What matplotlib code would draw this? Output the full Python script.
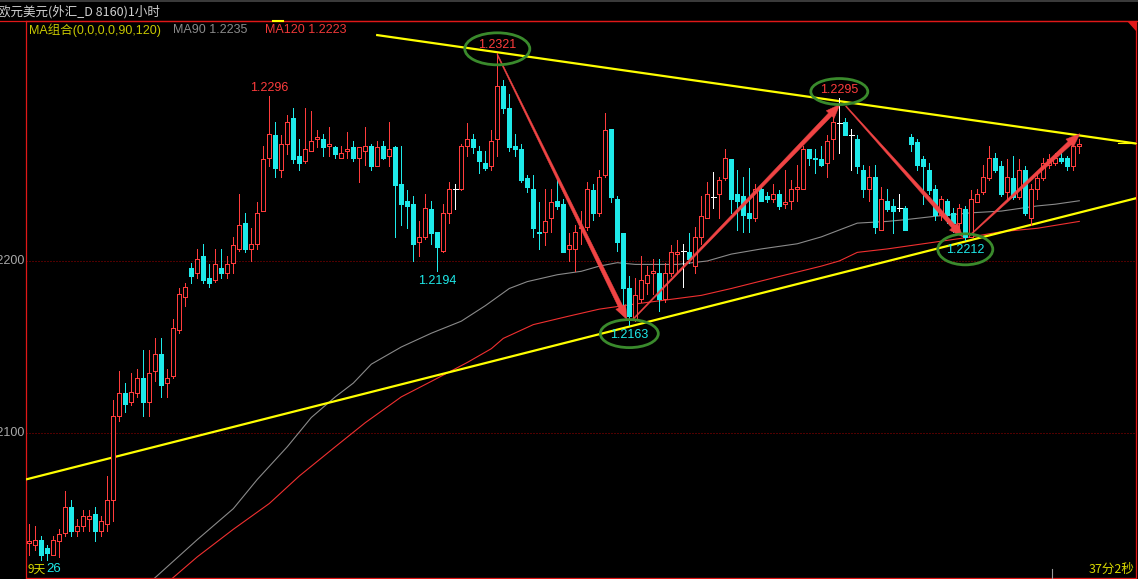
import numpy as np
import matplotlib
matplotlib.use("Agg")
import matplotlib.pyplot as plt
from matplotlib.patches import Rectangle, Ellipse, Polygon
from matplotlib.lines import Line2D
from matplotlib.collections import LineCollection

# ---- EUR/USD hourly bars (open, high, low, close) ----
opens = [
    1.2036, 1.2035, 1.2038, 1.2033, 1.2029, 1.2037, 1.2042, 1.2057, 1.2043, 1.2046,
    1.2050, 1.2053, 1.2043, 1.2047, 1.2061, 1.2110, 1.2123, 1.2118, 1.2123, 1.2132,
    1.2118, 1.2136, 1.2146, 1.2129, 1.2133, 1.2160, 1.2179, 1.2196, 1.2193, 1.2203,
    1.2190, 1.2189, 1.2196, 1.2193, 1.2199, 1.2207, 1.2222, 1.2207, 1.2210, 1.2229,
    1.2260, 1.2273, 1.2253, 1.2268, 1.2283, 1.2261, 1.2258, 1.2264, 1.2271, 1.2271,
    1.2267, 1.2266, 1.2260, 1.2264, 1.2266, 1.2260, 1.2264, 1.2267, 1.2255, 1.2267,
    1.2261, 1.2266, 1.2245, 1.2235, 1.2233, 1.2211, 1.2214, 1.2230, 1.2217, 1.2206,
    1.2228, 1.2242, 1.2242, 1.2267, 1.2271, 1.2264, 1.2257, 1.2255, 1.2271, 1.2302,
    1.2289, 1.2267, 1.2265, 1.2248, 1.2242, 1.2217, 1.2217, 1.2225, 1.2235, 1.2233,
    1.2207, 1.2207, 1.2219, 1.2220, 1.2241, 1.2228, 1.2250, 1.2277, 1.2236, 1.2216,
    1.2184, 1.2166, 1.2178, 1.2187, 1.2193, 1.2193, 1.2178, 1.2193, 1.2204, 1.2206,
    1.2205, 1.2197, 1.2214, 1.2225, 1.2237, 1.2239, 1.2248, 1.2259, 1.2239, 1.2238,
    1.2228, 1.2225, 1.2242, 1.2238, 1.2236, 1.2239, 1.2233, 1.2235, 1.2242, 1.2242,
    1.2265, 1.2260, 1.2259, 1.2257, 1.2271, 1.2280, 1.2281, 1.2273, 1.2271, 1.2253,
    1.2242, 1.2249, 1.2218, 1.2235, 1.2232, 1.2231, 1.2231, 1.2272, 1.2269, 1.2259,
    1.2253, 1.2242, 1.2227, 1.2235, 1.2228, 1.2222, 1.2230, 1.2214, 1.2234, 1.2240,
    1.2248, 1.2260, 1.2255, 1.2240, 1.2248, 1.2237, 1.2253, 1.2225, 1.2242, 1.2248,
    1.2256, 1.2257, 1.2260, 1.2260, 1.2255, 1.2267,
]
highs = [
    1.2047, 1.2046, 1.2040, 1.2035, 1.2040, 1.2044, 1.2066, 1.2061, 1.2050, 1.2055,
    1.2055, 1.2057, 1.2052, 1.2075, 1.2119, 1.2136, 1.2129, 1.2135, 1.2137, 1.2148,
    1.2148, 1.2155, 1.2155, 1.2137, 1.2166, 1.2184, 1.2187, 1.2199, 1.2207, 1.2210,
    1.2198, 1.2207, 1.2207, 1.2203, 1.2214, 1.2239, 1.2228, 1.2219, 1.2234, 1.2267,
    1.2296, 1.2281, 1.2273, 1.2285, 1.2289, 1.2271, 1.2289, 1.2287, 1.2276, 1.2274,
    1.2278, 1.2267, 1.2267, 1.2275, 1.2270, 1.2266, 1.2278, 1.2268, 1.2270, 1.2270,
    1.2281, 1.2267, 1.2267, 1.2241, 1.2238, 1.2223, 1.2239, 1.2235, 1.2217, 1.2233,
    1.2246, 1.2245, 1.2268, 1.2280, 1.2274, 1.2267, 1.2264, 1.2276, 1.2321, 1.2305,
    1.2297, 1.2274, 1.2268, 1.2250, 1.2250, 1.2234, 1.2242, 1.2242, 1.2249, 1.2236,
    1.2216, 1.2221, 1.2229, 1.2246, 1.2245, 1.2253, 1.2286, 1.2277, 1.2238, 1.2216,
    1.2191, 1.2190, 1.2203, 1.2197, 1.2201, 1.2201, 1.2199, 1.2209, 1.2212, 1.2210,
    1.2216, 1.2220, 1.2238, 1.2246, 1.2252, 1.2249, 1.2265, 1.2259, 1.2253, 1.2249,
    1.2254, 1.2245, 1.2245, 1.2240, 1.2245, 1.2241, 1.2253, 1.2247, 1.2256, 1.2267,
    1.2265, 1.2265, 1.2267, 1.2273, 1.2284, 1.2295, 1.2283, 1.2277, 1.2273, 1.2256,
    1.2255, 1.2256, 1.2243, 1.2242, 1.2236, 1.2239, 1.2232, 1.2274, 1.2271, 1.2261,
    1.2257, 1.2244, 1.2238, 1.2236, 1.2231, 1.2233, 1.2232, 1.2241, 1.2242, 1.2256,
    1.2267, 1.2263, 1.2258, 1.2259, 1.2261, 1.2259, 1.2255, 1.2245, 1.2252, 1.2260,
    1.2262, 1.2263, 1.2263, 1.2261, 1.2271, 1.2271,
]
lows = [
    1.2029, 1.2032, 1.2026, 1.2026, 1.2029, 1.2028, 1.2040, 1.2040, 1.2040, 1.2043,
    1.2043, 1.2037, 1.2040, 1.2043, 1.2049, 1.2107, 1.2112, 1.2116, 1.2121, 1.2110,
    1.2110, 1.2130, 1.2121, 1.2121, 1.2132, 1.2158, 1.2174, 1.2187, 1.2190, 1.2187,
    1.2185, 1.2188, 1.2190, 1.2190, 1.2193, 1.2206, 1.2205, 1.2200, 1.2207, 1.2229,
    1.2255, 1.2249, 1.2249, 1.2262, 1.2257, 1.2253, 1.2257, 1.2264, 1.2266, 1.2261,
    1.2261, 1.2260, 1.2260, 1.2260, 1.2258, 1.2246, 1.2256, 1.2253, 1.2255, 1.2259,
    1.2255, 1.2214, 1.2221, 1.2219, 1.2200, 1.2203, 1.2213, 1.2210, 1.2194, 1.2205,
    1.2222, 1.2230, 1.2241, 1.2261, 1.2263, 1.2251, 1.2253, 1.2253, 1.2261, 1.2286,
    1.2264, 1.2261, 1.2246, 1.2240, 1.2214, 1.2207, 1.2209, 1.2217, 1.2230, 1.2205,
    1.2200, 1.2194, 1.2210, 1.2218, 1.2224, 1.2226, 1.2249, 1.2234, 1.2206, 1.2172,
    1.2163, 1.2165, 1.2176, 1.2181, 1.2181, 1.2171, 1.2176, 1.2191, 1.2193, 1.2185,
    1.2199, 1.2193, 1.2210, 1.2225, 1.2231, 1.2225, 1.2247, 1.2228, 1.2218, 1.2217,
    1.2217, 1.2223, 1.2235, 1.2234, 1.2234, 1.2230, 1.2231, 1.2230, 1.2235, 1.2242,
    1.2256, 1.2251, 1.2255, 1.2249, 1.2259, 1.2263, 1.2273, 1.2253, 1.2251, 1.2237,
    1.2235, 1.2216, 1.2218, 1.2229, 1.2216, 1.2229, 1.2218, 1.2264, 1.2253, 1.2233,
    1.2239, 1.2224, 1.2224, 1.2222, 1.2217, 1.2216, 1.2212, 1.2214, 1.2234, 1.2239,
    1.2247, 1.2252, 1.2238, 1.2235, 1.2236, 1.2236, 1.2227, 1.2221, 1.2236, 1.2247,
    1.2254, 1.2256, 1.2257, 1.2253, 1.2253, 1.2263,
]
closes = [
    1.2037, 1.2038, 1.2029, 1.2030, 1.2038, 1.2041, 1.2057, 1.2043, 1.2046, 1.2052,
    1.2052, 1.2043, 1.2049, 1.2061, 1.2110, 1.2123, 1.2117, 1.2124, 1.2132, 1.2118,
    1.2135, 1.2146, 1.2128, 1.2132, 1.2161, 1.2181, 1.2185, 1.2191, 1.2201, 1.2189,
    1.2187, 1.2198, 1.2193, 1.2198, 1.2209, 1.2221, 1.2207, 1.2210, 1.2228, 1.2259,
    1.2274, 1.2254, 1.2268, 1.2281, 1.2259, 1.2257, 1.2265, 1.2270, 1.2272, 1.2266,
    1.2268, 1.2262, 1.2263, 1.2265, 1.2260, 1.2266, 1.2267, 1.2255, 1.2266, 1.2260,
    1.2265, 1.2244, 1.2233, 1.2232, 1.2210, 1.2214, 1.2231, 1.2216, 1.2208, 1.2228,
    1.2242, 1.2242, 1.2267, 1.2271, 1.2266, 1.2258, 1.2254, 1.2270, 1.2302, 1.2289,
    1.2266, 1.2265, 1.2247, 1.2243, 1.2219, 1.2216, 1.2223, 1.2234, 1.2232, 1.2205,
    1.2209, 1.2217, 1.2220, 1.2242, 1.2228, 1.2249, 1.2276, 1.2237, 1.2211, 1.2184,
    1.2168, 1.2180, 1.2189, 1.2192, 1.2194, 1.2178, 1.2193, 1.2205, 1.2205, 1.2206,
    1.2201, 1.2214, 1.2226, 1.2239, 1.2237, 1.2247, 1.2260, 1.2236, 1.2235, 1.2227,
    1.2225, 1.2242, 1.2235, 1.2236, 1.2239, 1.2232, 1.2234, 1.2242, 1.2243, 1.2265,
    1.2260, 1.2259, 1.2256, 1.2270, 1.2281, 1.2280, 1.2273, 1.2273, 1.2255, 1.2242,
    1.2249, 1.2220, 1.2236, 1.2230, 1.2229, 1.2231, 1.2218, 1.2268, 1.2256, 1.2255,
    1.2241, 1.2227, 1.2236, 1.2227, 1.2222, 1.2231, 1.2214, 1.2236, 1.2239, 1.2249,
    1.2260, 1.2253, 1.2239, 1.2249, 1.2237, 1.2253, 1.2228, 1.2242, 1.2248, 1.2257,
    1.2259, 1.2260, 1.2258, 1.2255, 1.2267, 1.2268,
]

# ---- moving averages (bar index, value) ----
ma90_idx = [15, 21, 28, 34, 38, 43, 47, 51, 54, 57, 62, 67, 72, 76, 80, 83, 88, 92,
            95, 98, 101, 108, 113, 117, 122, 128, 132, 135, 138, 143, 146, 151, 157,
            162, 168, 171, 175]
ma90_val = [1.1997, 1.2016, 1.2038, 1.2056, 1.2073, 1.2092, 1.2109, 1.2121, 1.2129,
            1.2140, 1.2150, 1.2158, 1.2165, 1.2174, 1.2184, 1.2188, 1.2192, 1.2194,
            1.2197, 1.2199, 1.2198, 1.2198, 1.2200, 1.2204, 1.2207, 1.2210, 1.2214,
            1.2218, 1.2222, 1.2223, 1.2224, 1.2226, 1.2228, 1.2229, 1.2232, 1.2233,
            1.2235]
ma120_idx = [18, 24, 28, 34, 40, 45, 51, 56, 62, 67, 73, 77, 79, 84, 90, 95, 101,
             112, 117, 125, 132, 135, 138, 143, 147, 151, 157, 162, 168, 175]
ma120_val = [1.1998, 1.2016, 1.2028, 1.2044, 1.2059, 1.2075, 1.2092, 1.2106, 1.2121,
             1.2130, 1.2141, 1.2149, 1.2155, 1.2163, 1.2168, 1.2172, 1.2175, 1.2180,
             1.2184, 1.2191, 1.2197, 1.2200, 1.2205, 1.2207, 1.2209, 1.2211, 1.2214,
             1.2217, 1.2219, 1.2223]

# ---- trend lines (bar index, price) ----
upper_trend = [(57.8, 1.23314), (184.6, 1.22682)]
lower_trend = [(-0.55, 1.20730), (184.6, 1.22366)]

# swing points that get labels and circles
swing_highs = [40, 78, 135]
swing_lows = [68, 100, 156]
circled = [78, 100, 135, 156]

# swing arrows: start and end as (bar index, price)
arrows = [
    ((78.0, 1.2320), (99.6, 1.2166)),
    ((100.6, 1.2166), (135.1, 1.2291)),
    ((136.1, 1.2290), (155.6, 1.2214)),
    ((156.8, 1.2215), (175.1, 1.2274)),
]

RED = "#FF3C3C"
CYAN = "#1EEAEA"
YELLOW = "#FFFF00"
FRAME = "#E01818"
GREEN = "#3A8A2C"
ARROW = "#F04444"

W, H = 1138, 579
L, R, T, B = 26, 1136, 21, 578
fig = plt.figure(figsize=(W / 100, H / 100), dpi=100, facecolor="black")
ax = fig.add_axes([L / W, (H - B) / H, (R - L) / W, (B - T) / H])
ax.set_facecolor("black")
ax.set_xlim(-0.55, 184.45)
ax.set_ylim(1.20157, 1.23395)
ax.set_xticks([])
ax.set_yticks([])
for s in ax.spines.values():
    s.set_color(FRAME)
    s.set_linewidth(0.9)

px_x = 1.0 / 6.0               # data units per pixel, horizontal
px_y = 1.0 / 17200.0           # data units per pixel, vertical
lw1 = 0.72                     # one pixel in points

# grid
for level in (1.22, 1.21):
    ax.axhline(level, color="#A00000", lw=lw1, ls=(0, (1, 2)), zorder=1)
    ax.annotate(f"{level:.4f}", xy=(0, level), xycoords=("axes fraction", "data"),
                xytext=(-2, 0), textcoords="offset pixels", ha="right", va="center",
                color="#A8A8A8", fontsize=9, family="Liberation Sans",
                annotation_clip=False)

# moving averages
ax.plot(ma90_idx, ma90_val, color="#8A8A8A", lw=0.8, zorder=2)
ax.plot(ma120_idx, ma120_val, color="#F03030", lw=0.8, zorder=2)

# trend lines
for line in (upper_trend, lower_trend):
    xs, ys = zip(*line)
    ax.plot(xs, ys, color=YELLOW, lw=1.6, zorder=3, solid_capstyle="butt")

# candles
body_w = 0.62
segs_up, segs_dn, segs_flat = [], [], []
for i, (o, h, l, c) in enumerate(zip(opens, highs, lows, closes)):
    if c > o:
        segs_up += [[(i, c), (i, h)], [(i, l), (i, o)]]
        ax.add_patch(Rectangle((i - body_w / 2, o), body_w, c - o, fc="black",
                               ec=RED, lw=lw1, antialiased=False, zorder=4))
    elif c < o:
        segs_dn.append([(i, l), (i, h)])
        ax.add_patch(Rectangle((i - body_w / 2, c), body_w, o - c,
                               fc=CYAN, ec=CYAN, lw=lw1, antialiased=False, zorder=4))
    else:
        segs_flat += [[(i, l), (i, h)], [(i - 0.4, o), (i + 0.4, o)]]
ax.add_collection(LineCollection(segs_up, colors=RED, linewidths=lw1,
                                 antialiaseds=False, zorder=4))
ax.add_collection(LineCollection(segs_dn, colors=CYAN, linewidths=lw1,
                                 antialiaseds=False, zorder=4))
ax.add_collection(LineCollection(segs_flat, colors="white", linewidths=lw1,
                                 antialiaseds=False, zorder=4))


def tapered_arrow(p0, p1, w0=1.0, w1=4.5, head_len=14, head_w=11):
    t = ax.transData
    a, b = t.transform(p0), t.transform(p1)
    d = b - a
    u = d / np.hypot(*d)
    v = np.array([-u[1], u[0]])
    base = b - u * head_len
    pts = [a + v * w0 / 2, base + v * w1 / 2, base + v * head_w / 2, b,
           base - v * head_w / 2, base - v * w1 / 2, a - v * w0 / 2]
    ax.add_patch(Polygon(t.inverted().transform(pts), closed=True, fc=ARROW,
                         ec=ARROW, lw=0.3, zorder=6))


for p0, p1 in arrows:
    tapered_arrow(p0, p1)

# swing labels
lab_font = dict(fontsize=9, family="Liberation Sans", ha="center", va="center",
                zorder=7)
for i in swing_highs:
    ax.annotate(f"{highs[i]:.4f}", xy=(i, highs[i]), xytext=(0, 8),
                textcoords="offset pixels", color=RED, **lab_font)
for i in swing_lows:
    ax.annotate(f"{lows[i]:.4f}", xy=(i, lows[i]), xytext=(0, -10),
                textcoords="offset pixels", color=CYAN, **lab_font)

# circles around the main swing points
ell_size = {78: (65, 32, 4), 135: (57, 26, 6), 100: (58, 28, -9), 156: (55, 31, -9)}
for i in circled:
    w, h, dy = ell_size[i]
    y0 = highs[i] if i in swing_highs else lows[i]
    ax.add_patch(Ellipse((i, y0 + dy * px_y), w * px_x, h * px_y, fill=False,
                         ec=GREEN, lw=2.0, zorder=8))

# header and frame decorations
fig.add_artist(Rectangle((0, 1 - 2 / H), 1, 2 / H, transform=fig.transFigure,
                         color="#3A3A3A", lw=0))
fig.add_artist(Line2D([0, 1], [1 - 21 / H] * 2, transform=fig.transFigure,
                      color=FRAME, lw=0.9))
fig.add_artist(Line2D([273 / W, 283 / W], [1 - 21 / H] * 2, transform=fig.transFigure,
                      color=YELLOW, lw=1.5))
fig.add_artist(Polygon([(1127 / W, 1 - 21 / H), (1136 / W, 1 - 21 / H),
                        (1136 / W, 1 - 31 / H)], closed=True,
                       transform=fig.transFigure, fc=FRAME, ec=FRAME, lw=0))
fig.add_artist(Line2D([1118 / W, 1136 / W], [1 - 143 / H] * 2,
                      transform=fig.transFigure, color=YELLOW, lw=0.8))
fig.add_artist(Line2D([1052 / W, 1052 / W], [1 - 569 / H, 1 - 578 / H],
                      transform=fig.transFigure, color="#9A9A9A", lw=0.8))

cjk = ["Noto Sans CJK SC", "DejaVu Sans"]
fig.text(-2 / W, 1 - 12 / H, "欧元美元(外汇_D 8160)1小时", color="#D0D0D0",
         fontsize=9, family=cjk, ha="left", va="center")
fig.text(29 / W, 1 - 30 / H, "MA组合(0,0,0,0,90,120)", color="#C8C800",
         fontsize=9, family=["Liberation Sans", "Noto Sans CJK SC"], ha="left",
         va="center")
fig.text(173 / W, 1 - 30 / H, f"MA90 {ma90_val[-1]:.4f}", color="#8A8A8A",
         fontsize=9, family="Liberation Sans", ha="left", va="center")
fig.text(265 / W, 1 - 30 / H, f"MA120 {ma120_val[-1]:.4f}", color="#F03838",
         fontsize=9, family="Liberation Sans", ha="left", va="center")
fig.text(28 / W, 1 - 569 / H, "9天", color="#D8D800", fontsize=8.5, family=cjk,
         ha="left", va="center")
fig.text(46 / W, 1 - 569 / H, "26", color=CYAN, fontsize=9.5,
         family="Liberation Sans", ha="left", va="center")
fig.text(1135 / W, 1 - 569 / H, "37分2秒", color="#D8D800", fontsize=9, family=cjk,
         ha="right", va="center")

fig.savefig("out.png", dpi=100, facecolor="black")
